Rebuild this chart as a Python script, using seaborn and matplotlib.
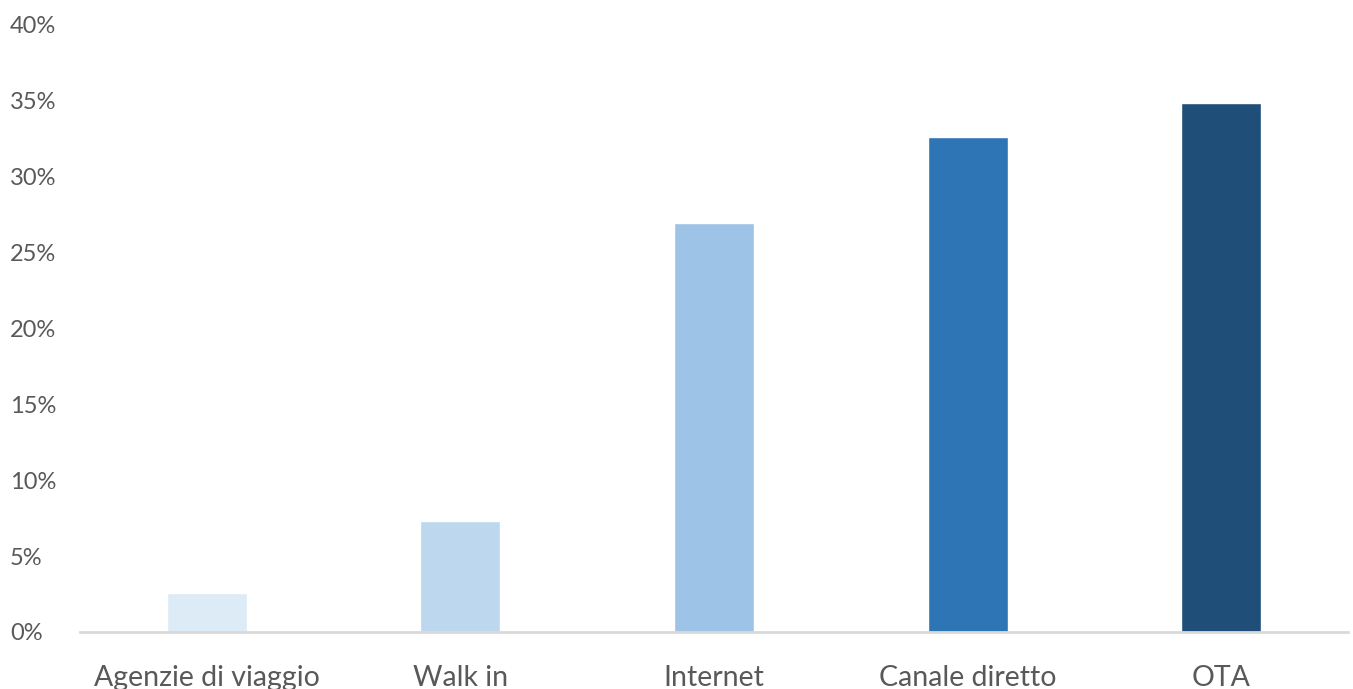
import matplotlib.pyplot as plt
import seaborn as sns
import pandas as pd
from matplotlib.ticker import FuncFormatter

sns.set_theme(style="white")
plt.rcParams['font.family'] = ['Lato', 'DejaVu Sans']

channels = ['Agenzie di viaggio', 'Walk in', 'Internet', 'Canale diretto', 'OTA']
shares = [2.6, 7.3, 26.95, 32.6, 34.8]
colors = ['#DDEBF7', '#BDD7EE', '#9DC3E6', '#2E75B6', '#1F4E79']

df = pd.DataFrame({'canale': channels, 'quota': shares})

fig = plt.figure(figsize=(13.53, 6.89), dpi=100)
ax_w = 1268
ax = fig.add_axes([80 / 1353, 57 / 689, ax_w / 1353, 607.5 / 689])

sns.barplot(data=df, x='canale', y='quota', hue='canale', palette=colors,
            legend=False, width=0.315, saturation=1, ax=ax)

ax.set_ylim(0, 40)
ax.set_yticks(range(0, 41, 5))
ax.yaxis.set_major_formatter(FuncFormatter(lambda v, p: '%d%%' % v))
ax.set_xlabel('')
ax.set_ylabel('')
for s in ['top', 'right', 'left']:
    ax.spines[s].set_visible(False)
ax.spines['bottom'].set_color('#D9D9D9')
ax.spines['bottom'].set_linewidth(2)
ax.tick_params(axis='y', length=0, labelsize=17, labelcolor='#595959', pad=0)
ax.tick_params(axis='x', length=0, labelsize=20.5, labelcolor='#595959', pad=24)
for t in ax.get_yticklabels():
    t.set_horizontalalignment('left')
    t.set_x(-70 / ax_w)

fig.savefig('out.png', dpi=100)
